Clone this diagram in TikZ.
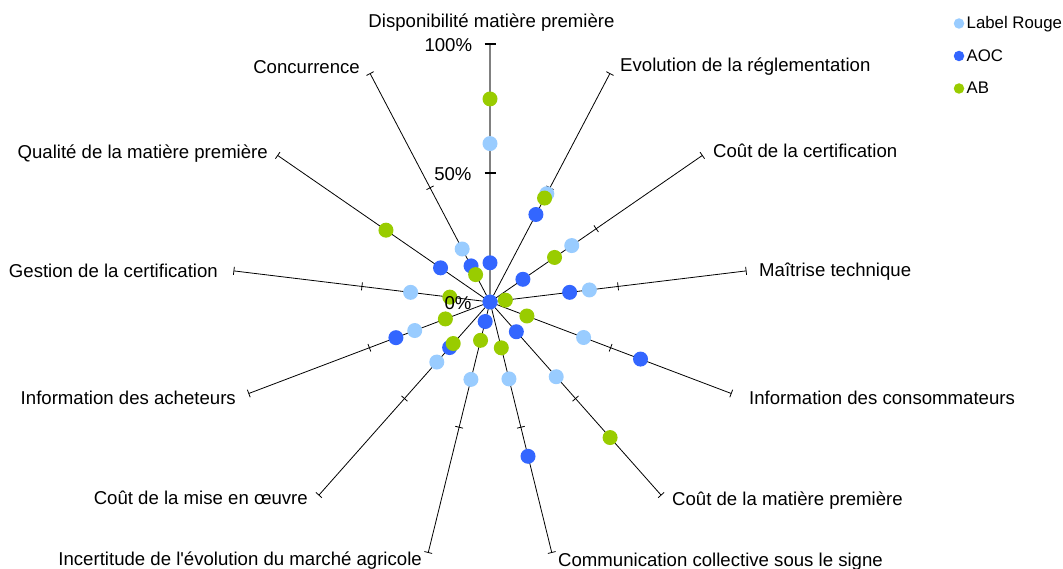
\documentclass[tikz,border=0pt]{standalone}
\usepackage{fontspec}
\setmainfont{Liberation Sans}
\definecolor{lrcol}{HTML}{99CCFF}
\definecolor{aoccol}{HTML}{3366FF}
\definecolor{abcol}{HTML}{99CC00}
\definecolor{axgray}{HTML}{808080}
\begin{document}
\begin{tikzpicture}[x=1pt,y=-1pt,
  lab/.style={inner sep=0pt, font=\fontsize{18.6}{22}\selectfont},
  leglab/.style={inner sep=0pt, anchor=base west, font=\fontsize{16.8}{20}\selectfont},
  dot/.style={circle, inner sep=0pt, minimum size=15pt, draw=none},
  legdot/.style={circle, inner sep=0pt, minimum size=10.5pt, draw=none},
  axisline/.style={black, line width=0.8pt},
  mainaxis/.style={axgray, line width=1.6pt},
  tickline/.style={black, line width=0.8pt},
  maintick/.style={black, line width=1.2pt}]
\useasboundingbox (0,0) rectangle (1063,569);
\def\R{258}
\coordinate (c) at (490,302);
% axes and ticks
\foreach \k in {0,...,12}{
  \pgfmathsetmacro\a{90-\k*360/13}
  \pgfmathsetmacro\ex{490+\R*cos(\a)}
  \pgfmathsetmacro\ey{302-\R*sin(\a)}
  \coordinate (e\k) at (\ex,\ey);
  \ifnum\k=0
    \draw[mainaxis] (c) -- (e\k);
  \else
    \draw[axisline] (c) -- (e\k);
  \fi
  \foreach \f in {0.5,1}{
    \pgfmathsetmacro\tx{490+\f*\R*cos(\a)}
    \pgfmathsetmacro\ty{302-\f*\R*sin(\a)}
    \ifnum\k=0
      \pgfmathsetmacro\h{5.5}
    \else
      \pgfmathsetmacro\h{4}
    \fi
    \pgfmathsetmacro\px{\h*sin(\a)}
    \pgfmathsetmacro\py{\h*cos(\a)}
    \coordinate (ta) at (\tx-\px,\ty-\py);
    \coordinate (tb) at (\tx+\px,\ty+\py);
    \ifnum\k=0
      \draw[maintick] (ta) -- (tb);
    \else
      \draw[tickline] (ta) -- (tb);
    \fi
  }
}
% data series
\foreach \v [count=\k from 0] in {0.614,0.474,0.385,0.388,0.388,0.387,0.307,0.309,0.311,0.312,0.31,0,0.232}{
  \pgfmathsetmacro\a{90-\k*360/13}
  \pgfmathsetmacro\dx{490+\v*\R*cos(\a)}
  \pgfmathsetmacro\dy{302-\v*\R*sin(\a)}
  \node[dot, fill=lrcol] (lr\k) at (\dx,\dy) {};
}
\foreach \v [count=\k from 0] in {0.152,0.383,0.155,0.311,0.624,0.154,0.616,0.078,0.236,0.39,0,0.233,0.158}{
  \pgfmathsetmacro\a{90-\k*360/13}
  \pgfmathsetmacro\dx{490+\v*\R*cos(\a)}
  \pgfmathsetmacro\dy{302-\v*\R*sin(\a)}
  \node[dot, fill=aoccol] (aoc\k) at (\dx,\dy) {};
}
\foreach \v [count=\k from 0] in {0.787,0.455,0.304,0.06,0.153,0.702,0.183,0.153,0.215,0.185,0.157,0.49,0.12}{
  \pgfmathsetmacro\a{90-\k*360/13}
  \pgfmathsetmacro\dx{490+\v*\R*cos(\a)}
  \pgfmathsetmacro\dy{302-\v*\R*sin(\a)}
  \node[dot, fill=abcol] (ab\k) at (\dx,\dy) {};
}
% scale labels
\node[lab, anchor=base east] (s100) at (472.3,51.5) {100\%};
\node[lab, anchor=base east] (s50) at (471.7,180.7) {50\%};
\node[lab, anchor=base east] (s0) at (471.7,309.3) {0\%};
% category labels
\node[lab, anchor=base] (l0) at (491.5,28) {Disponibilité matière première};
\node[lab, anchor=base west] (l1) at (620,72) {Evolution de la réglementation};
\node[lab, anchor=base west] (l2) at (713,158) {Coût de la certification};
\node[lab, anchor=base west] (l3) at (759,277) {Maîtrise technique};
\node[lab, anchor=base west] (l4) at (749,404) {Information des consommateurs};
\node[lab, anchor=base west] (l5) at (672,505) {Coût de la matière première};
\node[lab, anchor=base west] (l6) at (558,566) {Communication collective sous le signe};
\node[lab, anchor=base east] (l7) at (422,565) {Incertitude de l\textquotesingle évolution du marché agricole};
\node[lab, anchor=base east] (l8) at (308,504) {Coût de la mise en œuvre};
\node[lab, anchor=base east] (l9) at (236,404) {Information des acheteurs};
\node[lab, anchor=base east] (l10) at (218,277.5) {Gestion de la certification};
\node[lab, anchor=base east] (l11) at (268,159) {Qualité de la matière première};
\node[lab, anchor=base east] (l12) at (360,73.5) {Concurrence};
% legend
\node[legdot, fill=lrcol] (g1) at (959,23.5) {};
\node[leglab] (t1) at (966.5,28.5) {Label Rouge};
\node[legdot, fill=aoccol] (g2) at (959,56) {};
\node[leglab] (t2) at (966.5,61.5) {AOC};
\node[legdot, fill=abcol] (g3) at (959,88.5) {};
\node[leglab] (t3) at (966.5,94) {AB};
\end{tikzpicture}
\end{document}
